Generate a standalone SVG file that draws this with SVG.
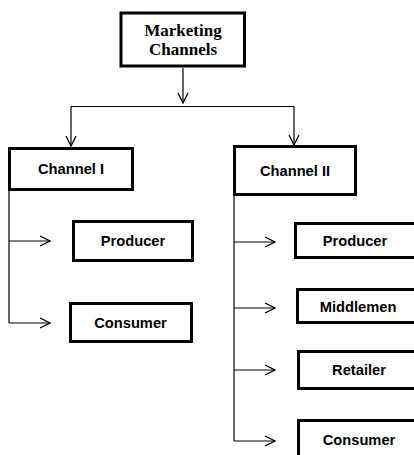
<svg xmlns="http://www.w3.org/2000/svg" width="414" height="455" viewBox="0 0 414 455">
<style>
.box{fill:#fff;stroke:#000;stroke-width:3}
.t{font-family:"Liberation Sans",Arial,sans-serif;font-weight:bold;font-size:14.7px;fill:#000;text-anchor:middle}
.ts{font-family:"Liberation Serif","Times New Roman",serif;font-weight:bold;font-size:17px;fill:#000;text-anchor:middle}
.c{fill:none;stroke:#000;stroke-width:1.2}
</style>
<defs>
<marker id="ah" viewBox="-1 -1 12 12" markerWidth="12" markerHeight="12" refX="10" refY="5" orient="auto" markerUnits="userSpaceOnUse">
<path d="M0,0 L10,5 L0,10" fill="none" stroke="#000" stroke-width="1.3"/>
</marker>
</defs>
<rect width="414" height="455" fill="#fff"/>
<g id="connectors">
<path class="c" d="M183,68 V103" marker-end="url(#ah)"/>
<path class="c" d="M71,106.5 H294"/>
<path class="c" d="M71,106.5 V146" marker-end="url(#ah)"/>
<path class="c" d="M294,106.5 V145" marker-end="url(#ah)"/>
<path class="c" d="M9,191 V323"/>
<path class="c" d="M9,241 H50" marker-end="url(#ah)"/>
<path class="c" d="M9,323 H50" marker-end="url(#ah)"/>
<path class="c" d="M234,196 V441"/>
<path class="c" d="M234,242 H275" marker-end="url(#ah)"/>
<path class="c" d="M234,308 H275" marker-end="url(#ah)"/>
<path class="c" d="M234,370 H275" marker-end="url(#ah)"/>
<path class="c" d="M234,441 H275" marker-end="url(#ah)"/>
</g>
<g id="marketing-channels">
<rect class="box" x="121" y="13" width="123.5" height="53"/>
<text class="ts" x="183" y="36">Marketing</text>
<text class="ts" x="183" y="55">Channels</text>
</g>
<g id="channel-1">
<rect class="box" x="9.5" y="148.5" width="123" height="41"/>
<text class="t" x="71" y="173.5">Channel I</text>
</g>
<g id="channel-2">
<rect class="box" x="234.5" y="146.5" width="121" height="48"/>
<text class="t" x="295" y="175.5">Channel II</text>
</g>
<g id="c1-producer">
<rect class="box" x="73.5" y="221.5" width="119" height="39"/>
<text class="t" x="133" y="245.5">Producer</text>
</g>
<g id="c1-consumer">
<rect class="box" x="70.5" y="303.5" width="121" height="38"/>
<text class="t" x="130.5" y="327.5">Consumer</text>
</g>
<g id="c2-producer">
<rect class="box" x="295.5" y="223.5" width="125" height="34"/>
<text class="t" x="355" y="246">Producer</text>
</g>
<g id="c2-middlemen">
<rect class="box" x="297.5" y="289.5" width="125" height="33"/>
<text class="t" x="358" y="311.5">Middlemen</text>
</g>
<g id="c2-retailer">
<rect class="box" x="298.5" y="351.5" width="125" height="37"/>
<text class="t" x="359" y="375">Retailer</text>
</g>
<g id="c2-consumer">
<rect class="box" x="298.5" y="420.5" width="125" height="50"/>
<text class="t" x="359" y="444.5">Consumer</text>
</g>
</svg>
